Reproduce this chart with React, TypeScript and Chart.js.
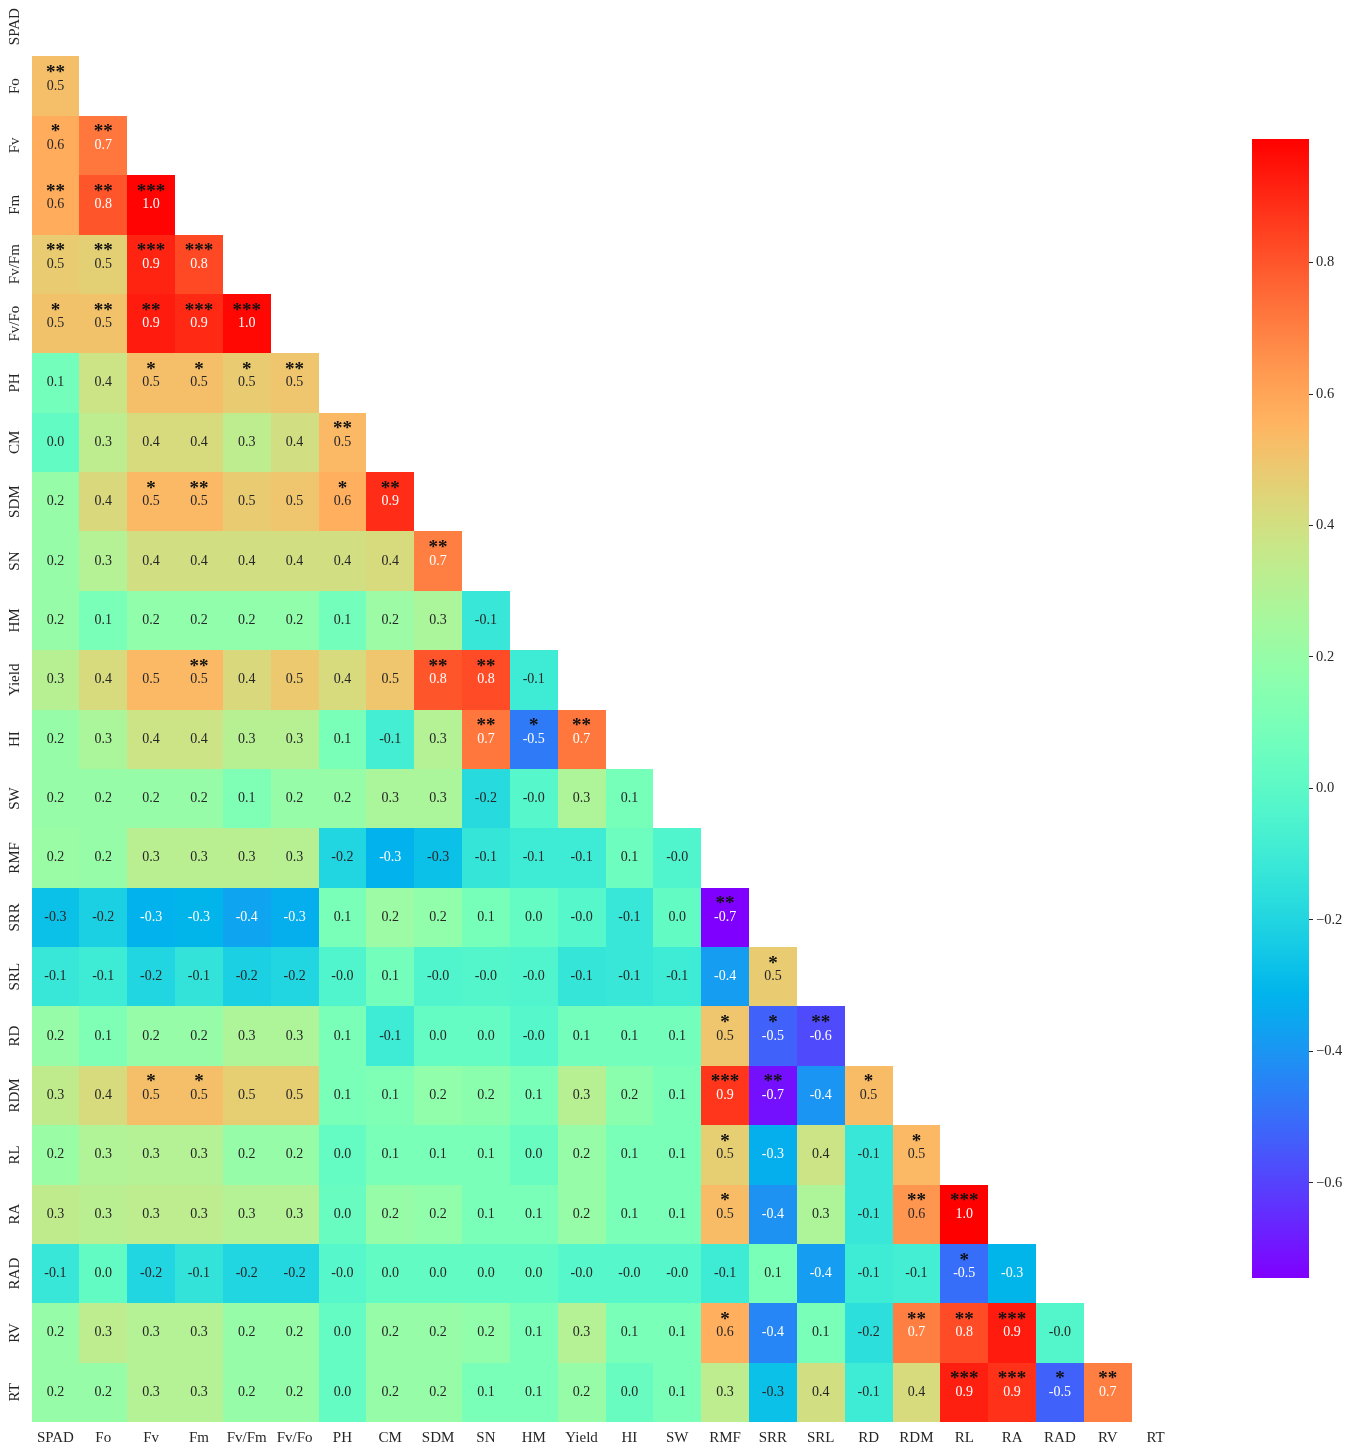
import React, { useEffect, useRef } from 'react';
import { Chart, registerables } from 'chart.js';

Chart.register(...registerables);

// Variables (row/column order)
const VARS = ['SPAD', 'Fo', 'Fv', 'Fm', 'Fv/Fm', 'Fv/Fo', 'PH', 'CM', 'SDM', 'SN', 'HM', 'Yield', 'HI', 'SW', 'RMF', 'SRR', 'SRL', 'RD', 'RDM', 'RL', 'RA', 'RAD', 'RV', 'RT'];

// Lower-triangle correlation rows (values estimated from labels + cell colours)
const R_SPAD: number[] = [];
const R_FO = [0.52];
const R_FV = [0.58, 0.72];
const R_FM = [0.58, 0.80, 0.98];
const R_FVFM = [0.48, 0.46, 0.91, 0.83];
const R_FVFO = [0.51, 0.51, 0.93, 0.90, 0.97];
const R_PH = [0.08, 0.38, 0.52, 0.52, 0.48, 0.50];
const R_CM = [0.02, 0.33, 0.42, 0.42, 0.33, 0.40, 0.54];
const R_SDM = [0.20, 0.43, 0.54, 0.54, 0.48, 0.50, 0.57, 0.89];
const R_SN = [0.20, 0.30, 0.40, 0.40, 0.40, 0.40, 0.40, 0.42, 0.70];
const R_HM = [0.20, 0.10, 0.18, 0.18, 0.18, 0.18, 0.08, 0.22, 0.27, -0.12];
const R_YIELD = [0.31, 0.42, 0.54, 0.54, 0.43, 0.49, 0.42, 0.50, 0.80, 0.82, -0.10];
const R_HI = [0.20, 0.27, 0.38, 0.38, 0.31, 0.31, 0.10, -0.08, 0.30, 0.72, -0.47, 0.72];
const R_SW = [0.20, 0.20, 0.20, 0.20, 0.12, 0.20, 0.20, 0.27, 0.27, -0.18, -0.02, 0.28, 0.09];
const R_RMF = [0.21, 0.20, 0.32, 0.32, 0.32, 0.31, -0.20, -0.32, -0.27, -0.13, -0.10, -0.10, 0.06, -0.04];
const R_SRR = [-0.27, -0.22, -0.32, -0.31, -0.36, -0.33, 0.10, 0.22, 0.18, 0.09, 0.03, -0.02, -0.12, 0.02, -0.745];
const R_SRL = [-0.12, -0.10, -0.20, -0.14, -0.22, -0.20, -0.04, 0.08, -0.04, -0.03, -0.04, -0.13, -0.12, -0.10, -0.38, 0.48];
const R_RD = [0.20, 0.12, 0.20, 0.20, 0.28, 0.28, 0.10, -0.10, 0.03, 0.03, -0.02, 0.08, 0.08, 0.08, 0.50, -0.53, -0.58];
const R_RDM = [0.34, 0.42, 0.52, 0.52, 0.47, 0.47, 0.10, 0.12, 0.18, 0.16, 0.10, 0.31, 0.16, 0.10, 0.87, -0.71, -0.40, 0.53];
const R_RL = [0.21, 0.29, 0.30, 0.30, 0.20, 0.20, 0.03, 0.10, 0.10, 0.10, 0.04, 0.20, 0.10, 0.10, 0.47, -0.33, 0.38, -0.12, 0.54];
const R_RA = [0.34, 0.32, 0.33, 0.33, 0.30, 0.30, 0.04, 0.20, 0.18, 0.10, 0.10, 0.20, 0.10, 0.10, 0.53, -0.41, 0.28, -0.12, 0.64, 0.988];
const R_RAD = [-0.12, 0.02, -0.20, -0.14, -0.20, -0.20, -0.02, 0.02, 0.02, 0.02, 0.02, -0.02, -0.02, -0.02, -0.10, 0.10, -0.38, -0.10, -0.08, -0.50, -0.31];
const R_RV = [0.20, 0.33, 0.30, 0.30, 0.20, 0.20, 0.03, 0.20, 0.20, 0.18, 0.10, 0.30, 0.10, 0.10, 0.57, -0.44, 0.10, -0.16, 0.70, 0.82, 0.93, -0.03];
const R_RT = [0.20, 0.20, 0.30, 0.30, 0.20, 0.20, 0.03, 0.20, 0.20, 0.10, 0.10, 0.20, 0.04, 0.10, 0.33, -0.27, 0.40, -0.10, 0.42, 0.92, 0.88, -0.53, 0.70];

// Significance stars per cell (number of asterisks)
const S_SPAD: number[] = [];
const S_FO = [2];
const S_FV = [1, 2];
const S_FM = [2, 2, 3];
const S_FVFM = [2, 2, 3, 3];
const S_FVFO = [1, 2, 2, 3, 3];
const S_PH = [0, 0, 1, 1, 1, 2];
const S_CM = [0, 0, 0, 0, 0, 0, 2];
const S_SDM = [0, 0, 1, 2, 0, 0, 1, 2];
const S_SN = [0, 0, 0, 0, 0, 0, 0, 0, 2];
const S_HM = [0, 0, 0, 0, 0, 0, 0, 0, 0, 0];
const S_YIELD = [0, 0, 0, 2, 0, 0, 0, 0, 2, 2, 0];
const S_HI = [0, 0, 0, 0, 0, 0, 0, 0, 0, 2, 1, 2];
const S_SW = [0, 0, 0, 0, 0, 0, 0, 0, 0, 0, 0, 0, 0];
const S_RMF = [0, 0, 0, 0, 0, 0, 0, 0, 0, 0, 0, 0, 0, 0];
const S_SRR = [0, 0, 0, 0, 0, 0, 0, 0, 0, 0, 0, 0, 0, 0, 2];
const S_SRL = [0, 0, 0, 0, 0, 0, 0, 0, 0, 0, 0, 0, 0, 0, 0, 1];
const S_RD = [0, 0, 0, 0, 0, 0, 0, 0, 0, 0, 0, 0, 0, 0, 1, 1, 2];
const S_RDM = [0, 0, 1, 1, 0, 0, 0, 0, 0, 0, 0, 0, 0, 0, 3, 2, 0, 1];
const S_RL = [0, 0, 0, 0, 0, 0, 0, 0, 0, 0, 0, 0, 0, 0, 1, 0, 0, 0, 1];
const S_RA = [0, 0, 0, 0, 0, 0, 0, 0, 0, 0, 0, 0, 0, 0, 1, 0, 0, 0, 2, 3];
const S_RAD = [0, 0, 0, 0, 0, 0, 0, 0, 0, 0, 0, 0, 0, 0, 0, 0, 0, 0, 0, 1, 0];
const S_RV = [0, 0, 0, 0, 0, 0, 0, 0, 0, 0, 0, 0, 0, 0, 1, 0, 0, 0, 2, 2, 3, 0];
const S_RT = [0, 0, 0, 0, 0, 0, 0, 0, 0, 0, 0, 0, 0, 0, 0, 0, 0, 0, 0, 3, 3, 1, 2];

// Colour-bar tick values
const CB_TICKS = [-0.6, -0.4, -0.2, 0.0, 0.2, 0.4, 0.6, 0.8];

const ROWS = [R_SPAD, R_FO, R_FV, R_FM, R_FVFM, R_FVFO, R_PH, R_CM, R_SDM, R_SN, R_HM, R_YIELD, R_HI, R_SW, R_RMF, R_SRR, R_SRL, R_RD, R_RDM, R_RL, R_RA, R_RAD, R_RV, R_RT];
const SIGS = [S_SPAD, S_FO, S_FV, S_FM, S_FVFM, S_FVFO, S_PH, S_CM, S_SDM, S_SN, S_HM, S_YIELD, S_HI, S_SW, S_RMF, S_SRR, S_SRL, S_RD, S_RDM, S_RL, S_RA, S_RAD, S_RV, S_RT];

const ALL = ROWS.flat();
const VMIN = Math.min(...ALL);
const VMAX = Math.max(...ALL);

const FONT = "'Liberation Serif', 'Times New Roman', serif";
const DARK = '#262626';

function rainbow(v: number): number[] {
  const t = Math.max(0, Math.min(1, (v - VMIN) / (VMAX - VMIN)));
  const r = Math.min(1, Math.abs(2 * t - 0.5));
  const g = Math.max(0, Math.sin(Math.PI * t));
  const b = Math.max(0, Math.cos((Math.PI * t) / 2));
  return [r, g, b];
}
function css(c: number[]): string {
  return `rgb(${Math.round(c[0] * 255)},${Math.round(c[1] * 255)},${Math.round(c[2] * 255)})`;
}
function luminance(c: number[]): number {
  const lin = c.map((x) => (x <= 0.03928 ? x / 12.92 : Math.pow((x + 0.055) / 1.055, 2.4)));
  return 0.2126 * lin[0] + 0.7152 * lin[1] + 0.0722 * lin[2];
}

const heatPlugin = {
  id: 'heatCells',
  beforeDatasetsDraw(chart: any) {
    const { ctx } = chart;
    const xs = chart.scales.x;
    const ys = chart.scales.y;
    ctx.save();
    ROWS.forEach((row, i) => {
      row.forEach((v, j) => {
        const x0 = Math.round(xs.getPixelForValue(j - 0.5));
        const x1 = Math.round(xs.getPixelForValue(j + 0.5));
        const ya = ys.getPixelForValue(i - 0.5);
        const yb = ys.getPixelForValue(i + 0.5);
        const y0 = Math.round(Math.min(ya, yb));
        const y1 = Math.round(Math.max(ya, yb));
        ctx.fillStyle = css(rainbow(v));
        ctx.fillRect(x0, y0, x1 - x0, y1 - y0);
      });
    });
    ctx.restore();
  },
  afterDatasetsDraw(chart: any) {
    const { ctx } = chart;
    const xs = chart.scales.x;
    const ys = chart.scales.y;
    ctx.save();
    ctx.textAlign = 'center';
    ctx.textBaseline = 'alphabetic';
    ROWS.forEach((row, i) => {
      row.forEach((v, j) => {
        const cx = xs.getPixelForValue(j);
        const cy = ys.getPixelForValue(i);
        const col = rainbow(v);
        ctx.fillStyle = luminance(col) > 0.408 ? DARK : '#ffffff';
        ctx.font = `14px ${FONT}`;
        ctx.fillText(v.toFixed(1), cx, cy + 3.5);
        const n = SIGS[i][j];
        if (n > 0) {
          ctx.fillStyle = '#111111';
          ctx.font = `bold 19px ${FONT}`;
          ctx.fillText('*'.repeat(n), cx, cy - 8);
        }
      });
    });
    ctx.restore();
  },
  afterDraw(chart: any) {
    const { ctx } = chart;
    const ys = chart.scales.y;
    ctx.save();
    ctx.fillStyle = DARK;
    ctx.font = `15px ${FONT}`;
    ctx.textAlign = 'center';
    ctx.textBaseline = 'middle';
    VARS.forEach((name, i) => {
      ctx.save();
      ctx.translate(15, ys.getPixelForValue(i));
      ctx.rotate(-Math.PI / 2);
      ctx.fillText(name, 0, 0);
      ctx.restore();
    });
    ctx.restore();
  },
};

const gradientPlugin = {
  id: 'cbGradient',
  beforeDatasetsDraw(chart: any) {
    const { ctx, chartArea } = chart;
    const ys = chart.scales.y;
    const { left, right, top, bottom } = chartArea;
    const grad = ctx.createLinearGradient(0, top, 0, bottom);
    const N = 128;
    for (let k = 0; k <= N; k++) {
      const v = VMIN + ((VMAX - VMIN) * k) / N;
      const p = (ys.getPixelForValue(v) - top) / (bottom - top);
      grad.addColorStop(Math.max(0, Math.min(1, p)), css(rainbow(v)));
    }
    ctx.save();
    ctx.fillStyle = grad;
    ctx.fillRect(left, top, right - left, bottom - top);
    ctx.restore();
  },
};

const CELLS = ROWS.flatMap((row, i) => row.map((_, j) => ({ x: j, y: i })));

export default function App() {
  const mainRef = useRef<HTMLCanvasElement>(null);
  const cbRef = useRef<HTMLCanvasElement>(null);

  useEffect(() => {
    const main = new Chart(mainRef.current as HTMLCanvasElement, {
      type: 'scatter',
      data: { datasets: [{ data: CELLS, pointRadius: 0, pointHoverRadius: 0 }] },
      options: {
        responsive: false,
        animation: false,
        events: [],
        layout: { padding: { left: 31.5, right: 177.5, top: 0, bottom: 0 } },
        plugins: { legend: { display: false }, tooltip: { enabled: false } },
        scales: {
          x: {
            type: 'linear',
            min: -0.5,
            max: 23.5,
            afterBuildTicks: (s: any) => {
              s.ticks = VARS.map((_, i) => ({ value: i }));
            },
            afterFit: (s: any) => {
              s.height = 21;
            },
            grid: { display: false, drawTicks: false },
            border: { display: false },
            ticks: {
              autoSkip: false,
              maxRotation: 0,
              minRotation: 0,
              padding: 7,
              color: DARK,
              font: { family: FONT, size: 15 },
              callback: (v: any) => VARS[Math.round(Number(v))],
            },
          },
          y: { type: 'linear', min: -0.5, max: 23.5, reverse: true, display: false },
        },
      },
      plugins: [heatPlugin],
    } as any);

    const cb = new Chart(cbRef.current as HTMLCanvasElement, {
      type: 'scatter',
      data: { datasets: [{ data: [] }] },
      options: {
        responsive: false,
        animation: false,
        events: [],
        layout: { padding: { left: 12, right: 0, top: 19, bottom: 22 } },
        plugins: { legend: { display: false }, tooltip: { enabled: false } },
        scales: {
          x: { type: 'linear', min: 0, max: 1, display: false },
          y: {
            type: 'linear',
            position: 'right',
            min: VMIN,
            max: VMAX,
            afterBuildTicks: (s: any) => {
              s.ticks = CB_TICKS.map((v) => ({ value: v }));
            },
            afterFit: (s: any) => {
              s.width = 48;
            },
            grid: { drawOnChartArea: false, drawTicks: true, tickLength: 4, color: DARK, lineWidth: 1 },
            border: { display: false },
            ticks: {
              padding: 3,
              color: DARK,
              font: { family: FONT, size: 14.5 },
              callback: (v: any) => {
                const n = Number(v);
                const s = Math.abs(n).toFixed(1);
                return n < -1e-9 ? '\u2212' + s : s;
              },
            },
          },
        },
      },
      plugins: [gradientPlugin],
    } as any);

    return () => {
      main.destroy();
      cb.destroy();
    };
  }, []);

  return (
    <div style={{ position: 'absolute', left: 0, top: 0, width: 1357, height: 1443, overflow: 'hidden', background: '#ffffff' }}>
      <canvas ref={mainRef} width={1357} height={1446} style={{ position: 'absolute', left: 0, top: -3, width: 1357, height: 1446 }} />
      <canvas ref={cbRef} width={117} height={1180} style={{ position: 'absolute', left: 1240, top: 120, width: 117, height: 1180 }} />
    </div>
  );
}
